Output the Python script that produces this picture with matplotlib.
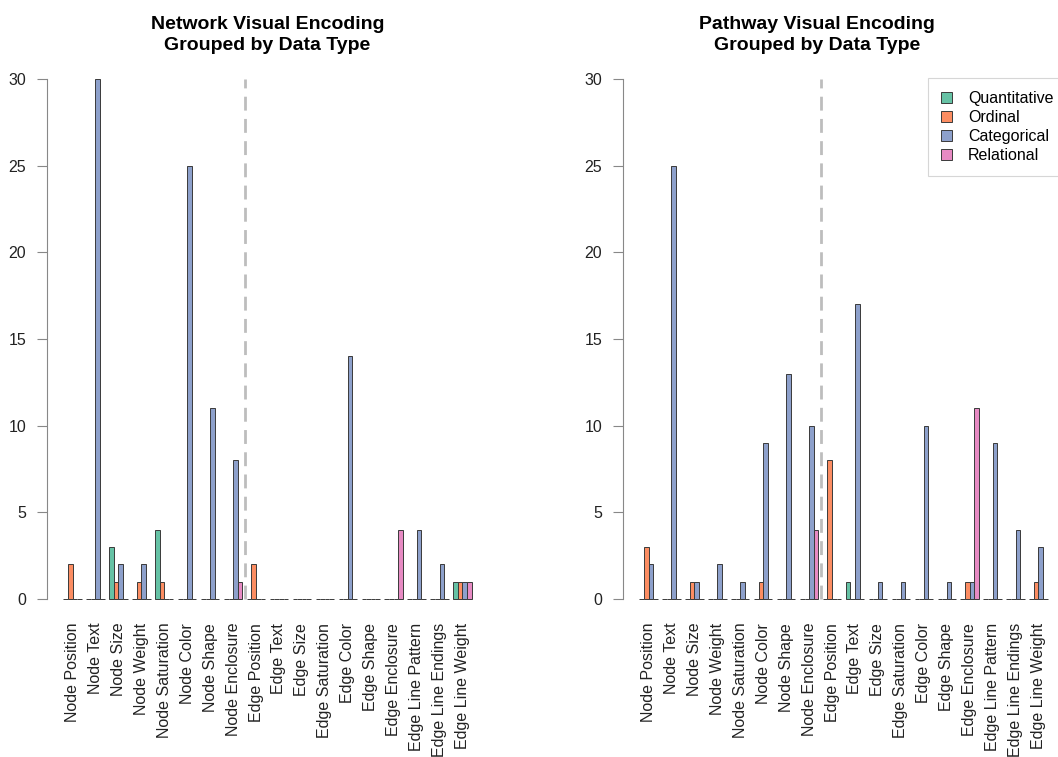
import numpy as np
from matplotlib import pyplot as plt
from matplotlib.patches import Patch

plt.rcParams['font.family'] = ['Liberation Sans', 'DejaVu Sans']

categories = ["Node Position", "Node Text", "Node Size", "Node Weight", "Node Saturation",
              "Node Color", "Node Shape", "Node Enclosure", "Edge Position", "Edge Text",
              "Edge Size", "Edge Saturation", "Edge Color", "Edge Shape", "Edge Enclosure",
              "Edge Line Pattern", "Edge Line Endings", "Edge Line Weight"]
types = ["Quantitative", "Ordinal", "Categorical", "Relational"]
colors = ["#66C2A5", "#FC8D62", "#8DA0CB", "#E78AC3"]

# network counts
net_quant = [0, 0, 3, 0, 4, 0, 0, 0, 0, 0, 0, 0, 0, 0, 0, 0, 0, 1]
net_ord   = [2, 0, 1, 1, 1, 0, 0, 0, 2, 0, 0, 0, 0, 0, 0, 0, 0, 1]
net_cat   = [0, 30, 2, 2, 0, 25, 11, 8, 0, 0, 0, 0, 14, 0, 0, 4, 2, 1]
net_rel   = [0, 0, 0, 0, 0, 0, 0, 1, 0, 0, 0, 0, 0, 0, 4, 0, 0, 1]

# pathway counts
path_quant = [0, 0, 0, 0, 0, 0, 0, 0, 0, 1, 0, 0, 0, 0, 0, 0, 0, 0]
path_ord   = [3, 0, 1, 0, 0, 1, 0, 0, 8, 0, 0, 0, 0, 0, 1, 0, 0, 1]
path_cat   = [2, 25, 1, 2, 1, 9, 13, 10, 0, 17, 1, 1, 10, 1, 1, 9, 4, 3]
path_rel   = [0, 0, 0, 0, 0, 0, 0, 4, 0, 0, 0, 0, 0, 0, 11, 0, 0, 0]

y_ticks = [0, 5, 10, 15, 20, 25, 30]

W, H = 1058, 757
fig = plt.figure(figsize=(W/100, H/100), dpi=100)

n = len(categories)
grp = np.arange(n)
centers = 3 + 5*grp
pad = 0.04*89


def draw_panel(ax, series, title):
    for j, vals in enumerate(series):
        left = 1 + 5*grp + j
        ax.bar(left, vals, width=1, align='edge', color=colors[j],
               edgecolor='#3a3a3a', linewidth=0.7)
    # dashed separator between node and edge encodings
    ax.plot([40.5, 40.5], [0, 30], color='#bdbdbd', lw=2, ls=(0, (5, 3)))
    ax.set_xlim(1 - pad, 90 + pad)
    ax.set_ylim(-1.2, 31.2)
    for s in ['top', 'right', 'bottom']:
        ax.spines[s].set_visible(False)
    ax.spines['left'].set_bounds(0, 30)
    ax.spines['left'].set_color('#888888')
    ax.set_yticks(y_ticks)
    ax.tick_params(axis='y', length=7, color='#888888', labelsize=11.5, pad=8,
                   labelcolor='#222222')
    ax.set_xticks(centers)
    ax.set_xticklabels(categories, rotation=90, fontsize=11.5, color='#222222')
    ax.tick_params(axis='x', length=0, pad=2)
    ax.set_title(title, fontsize=14, fontweight='bold', linespacing=1.3, pad=6)


ax1 = fig.add_axes([47/W, 1 - 620/H, 441/W, 562/H])
draw_panel(ax1, [net_quant, net_ord, net_cat, net_rel],
           "Network Visual Encoding\nGrouped by Data Type")

ax2 = fig.add_axes([623/W, 1 - 620/H, 441/W, 562/H])
draw_panel(ax2, [path_quant, path_ord, path_cat, path_rel],
           "Pathway Visual Encoding\nGrouped by Data Type")
ax2.title.set_position((0.44, 1.0))

handles = [Patch(facecolor=c, edgecolor='#3a3a3a', linewidth=0.7) for c in colors]
leg = fig.legend(handles, types, loc='upper left', bbox_to_anchor=(928/W, 1 - 78/H),
                 bbox_transform=fig.transFigure, borderaxespad=0, fontsize=11.5,
                 frameon=True, fancybox=False, edgecolor='#cccccc',
                 handlelength=0.7, handleheight=0.7, handletextpad=1.0,
                 labelspacing=0.25, borderpad=0.8)
leg.get_frame().set_linewidth(0.8)

plt.savefig("out.png", dpi=100)
